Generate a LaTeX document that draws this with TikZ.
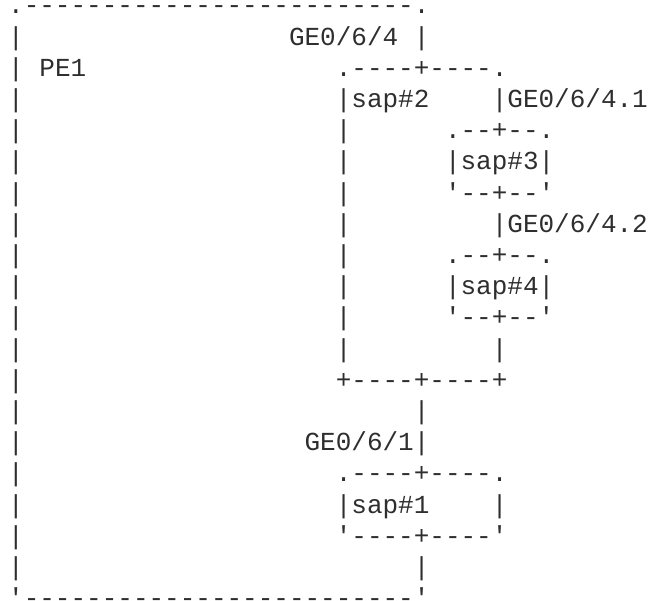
\documentclass[tikz,border=0pt]{standalone}
\usepackage{fontspec}
\setmonofont{Liberation Mono}
\definecolor{ink}{HTML}{2E2E2E}
\newcommand{\asc}[4]{\node[asc,name=#1] at ({8.2+#3*15.6},{-(13.8+(#2-1)*31.2)}) {#4};}
\begin{document}
\begin{tikzpicture}[x=1pt,y=1pt,
  asc/.style={anchor=base west,inner sep=0pt,outer sep=0pt,text=ink,
    font=\ttfamily\fontsize{26}{31.2}\selectfont}]
\useasboundingbox (0,0) rectangle (650,-600);
% outer box PE1
\asc{top}{1}{0}{.-------------------------.}
\foreach \r in {2,...,19}{\asc{left\r}{\r}{0}{|}}
\asc{bot}{20}{0}{'-------------------------'}
\asc{ge64}{2}{18}{GE0/6/4}
\asc{r2bar}{2}{26}{|}
\asc{pe1}{3}{2}{PE1}
% sap#2 box
\asc{s2top}{3}{21}{.----+----.}
\asc{s2lbl}{4}{21}{|sap\#2}
\asc{ge641}{4}{31}{|GE0/6/4.1}
\foreach \r in {5,...,12}{\asc{s2l\r}{\r}{21}{|}}
% sap#3
\asc{s3top}{5}{28}{.--+--.}
\asc{s3lbl}{6}{28}{|sap\#3|}
\asc{s3bot}{7}{28}{'--+--'}
\asc{ge642}{8}{31}{|GE0/6/4.2}
% sap#4
\asc{s4top}{9}{28}{.--+--.}
\asc{s4lbl}{10}{28}{|sap\#4|}
\asc{s4bot}{11}{28}{'--+--'}
\asc{r12bar}{12}{31}{|}
\asc{s2bot}{13}{21}{+----+----+}
\asc{r14bar}{14}{26}{|}
\asc{ge61}{15}{19}{GE0/6/1|}
% sap#1
\asc{s1top}{16}{21}{.----+----.}
\asc{s1lbl}{17}{21}{|sap\#1}
\asc{s1r}{17}{31}{|}
\asc{s1bot}{18}{21}{'----+----'}
\asc{r19bar}{19}{26}{|}
\end{tikzpicture}
\end{document}
